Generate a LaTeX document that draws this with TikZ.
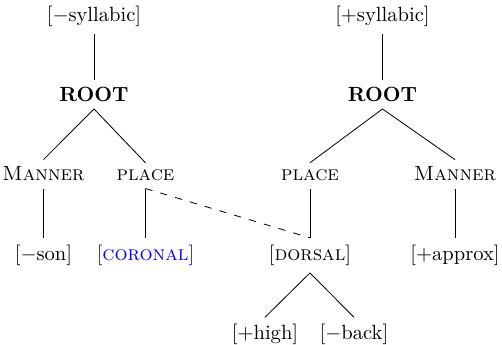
\documentclass[tikz,border=0pt]{standalone}
\begin{document}
\begin{tikzpicture}[line join=round,every node/.style={anchor=base},
		spread/.style={dash pattern=on 3.5pt off 4pt}]
		\useasboundingbox (0,0) rectangle (8.577,-5.894);
		% baselines of the five tiers
		\def\ya{-0.376};
		\def\yb{-1.734};
		\def\yc{-3.092};
		\def\yd{-4.451};
		\def\ye{-5.809};
		% consonant
		\node (sylL) at (1.606,\ya) {[$-$syllabic]};
		\node (rootL) at (1.606,\yb) {\textbf{ROOT}};
		\node (mannerL) at (0.743,\yc) {\textsc{Manner}};
		\node (placeL) at (2.486,\yc) {\textsc{place}};
		\node (son) at (0.743,\yd) {[$-$son]};
		\node[blue] (coronal) at (2.486,\yd) {[\textsc{coronal}]};
		% vowel
		\node (sylR) at (6.535,\ya) {[$+$syllabic]};
		\node (rootR) at (6.535,\yb) {\textbf{ROOT}};
		\node (placeR) at (5.296,\yc) {\textsc{place}};
		\node (mannerR) at (7.774,\yc) {\textsc{Manner}};
		\node (dorsal) at (5.296,\yd) {[\textsc{dorsal}]};
		\node (approx) at (7.774,\yd) {[$+$approx]};
		\node (high) at (4.528,\ye) {[$+$high]};
		\node (back) at (6.048,\ye) {[$-$back]};
		% branches
		\draw (sylL.south)--(rootL.north);
		\draw (rootL.south)--(mannerL.north);
		\draw (rootL.south)--(placeL.north);
		\draw (mannerL.south)--(son.north);
		\draw (placeL.south)--(coronal.north);
		\draw (sylR.south)--(rootR.north);
		\draw (rootR.south)--(placeR.north);
		\draw (rootR.south)--(mannerR.north);
		\draw (placeR.south)--(dorsal.north);
		\draw (mannerR.south)--(approx.north);
		\draw (dorsal.south)--(high.north);
		\draw (dorsal.south)--(back.north);
		% spreading
		\draw[spread] (placeL.south)--(dorsal.north);
\end{tikzpicture}
\end{document}
